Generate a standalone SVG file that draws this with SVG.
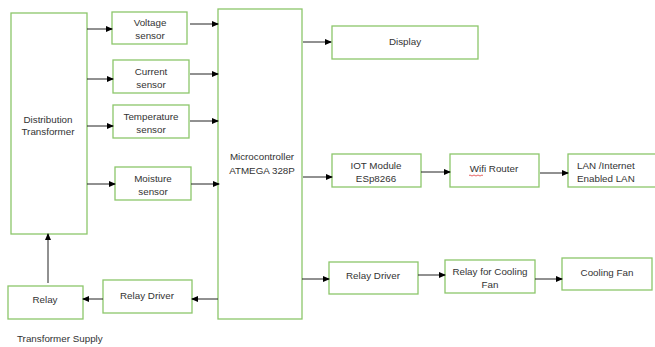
<svg xmlns="http://www.w3.org/2000/svg" width="655" height="347" viewBox="0 0 655 347">
<defs>
<marker id="ah" markerWidth="7" markerHeight="6" refX="6" refY="3" orient="auto" markerUnits="userSpaceOnUse">
<path d="M0,0 L7,3 L0,6 Z" fill="#000"/>
</marker>
</defs>
<style>
.box{fill:#fff;stroke:#8cc66a;stroke-width:1.3}
text{font-family:"Liberation Sans",Arial,sans-serif;font-size:9.8px;fill:#333}
.c{text-anchor:middle}
.ln{stroke:#222;stroke-width:1;fill:none;marker-end:url(#ah)}
</style>
<rect width="655" height="347" fill="#fff"/>
<g id="dist-transformer"><rect class="box" x="11" y="13" width="76" height="221"/><text class="c" x="48" y="123">Distribution</text><text class="c" x="48" y="135">Transformer</text></g>
<g id="voltage-sensor"><rect class="box" x="112" y="12" width="75" height="32"/><text class="c" x="150" y="26">Voltage</text><text class="c" x="150" y="39">sensor</text></g>
<g id="current-sensor"><rect class="box" x="113" y="60" width="76" height="33"/><text class="c" x="151" y="75">Current</text><text class="c" x="151" y="88">sensor</text></g>
<g id="temperature-sensor"><rect class="box" x="113" y="105" width="76" height="33"/><text class="c" x="151" y="120">Temperature</text><text class="c" x="151" y="133">sensor</text></g>
<g id="moisture-sensor"><rect class="box" x="115" y="167" width="76" height="33"/><text class="c" x="153" y="182">Moisture</text><text class="c" x="153" y="195">sensor</text></g>
<g id="microcontroller"><rect class="box" x="218" y="9" width="84" height="310"/><text class="c" x="262" y="160">Microcontroller</text><text class="c" x="262" y="174">ATMEGA 328P</text></g>
<g id="display"><rect class="box" x="332" y="26" width="146" height="33"/><text class="c" x="405" y="45">Display</text></g>
<g id="iot-module"><rect class="box" x="332" y="154" width="89" height="33"/><text class="c" x="376" y="169">IOT Module</text><text class="c" x="376" y="182">ESp8266</text></g>
<g id="wifi-router"><rect class="box" x="450" y="154" width="89" height="33"/><text class="c" x="494" y="172">Wifi Router</text><path d="M469,175.5 q1,-1 2,0 t2,0 t2,0 t2,0 t2,0 t2,0 t2,0" stroke="#d22" stroke-width="0.7" fill="none"/></g>
<g id="lan"><rect class="box" x="568" y="154" width="89" height="33"/><text x="577" y="169">LAN /Internet</text><text x="577" y="182">Enabled LAN</text></g>
<g id="relay-driver-right"><rect class="box" x="329" y="262" width="89" height="32"/><text class="c" x="373" y="279">Relay Driver</text></g>
<g id="relay-cooling-fan"><rect class="box" x="445" y="260" width="90" height="33"/><text class="c" x="490" y="275">Relay for Cooling</text><text class="c" x="490" y="288">Fan</text></g>
<g id="cooling-fan"><rect class="box" x="562" y="258" width="90" height="32"/><text class="c" x="607" y="276">Cooling Fan</text></g>
<g id="relay-driver-left"><rect class="box" x="103" y="280" width="89" height="33"/><text class="c" x="147" y="299">Relay Driver</text></g>
<g id="relay"><rect class="box" x="8" y="286" width="75" height="33"/><text class="c" x="45" y="303">Relay</text></g>
<g id="transformer-supply-label"><text x="17" y="342">Transformer Supply</text></g>
<g id="connectors">
<path class="ln" d="M87,29 H112"/>
<path class="ln" d="M87,79 H113"/>
<path class="ln" d="M87,126 H113"/>
<path class="ln" d="M87,184 H115"/>
<path class="ln" d="M190,24 H218"/>
<path class="ln" d="M190,74 H218"/>
<path class="ln" d="M190,121 H218"/>
<path class="ln" d="M191,184 H219"/>
<path class="ln" d="M303,42 H331"/>
<path class="ln" d="M303,177 H332"/>
<path class="ln" d="M421,172 H450"/>
<path class="ln" d="M540,173 H568"/>
<path class="ln" d="M302,279 H329"/>
<path class="ln" d="M418,275 H445"/>
<path class="ln" d="M535,279 H562"/>
<path class="ln" d="M218,299 H192"/>
<path class="ln" d="M103,299 H83"/>
<path class="ln" d="M48,283 V234"/>
</g>
</svg>
